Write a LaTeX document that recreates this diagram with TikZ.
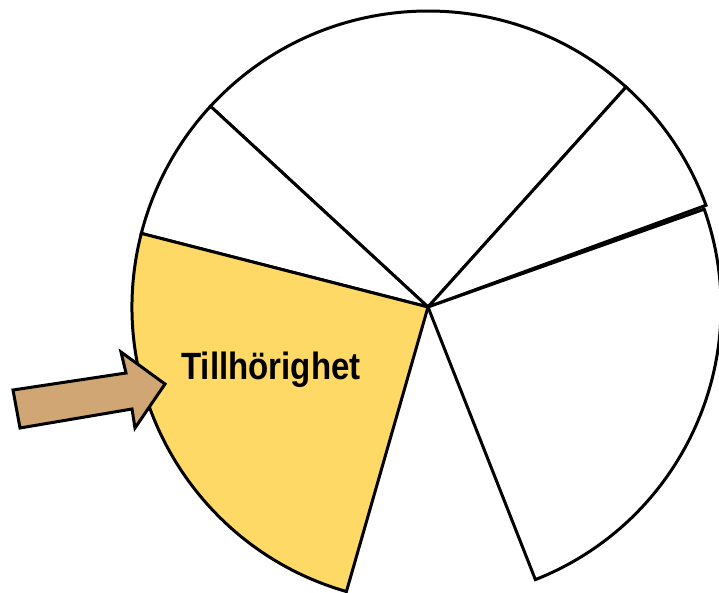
\documentclass[tikz,border=0pt]{standalone}
\usepackage{fontspec}
\setmainfont{Liberation Sans}
\definecolor{secyellow}{HTML}{FFD966}
\definecolor{arrowtan}{HTML}{CFA674}
\begin{document}
\begin{tikzpicture}[x=1pt,y=1pt,
  sector/.style={draw=black,line width=3pt,line join=miter},
  blockarrow/.style={draw=black,fill=arrowtan,line width=3pt,line join=miter}]
\useasboundingbox (0,0) rectangle (719,592);
\clip (0,0) rectangle (719,592);
\coordinate (c) at (428,285);
% top sector
\draw[sector,fill=white] (c) -- ++(48:296) arc[start angle=48,end angle=137.3,radius=296] -- cycle;
% upper left small sector
\draw[sector,fill=white] (c) -- ++(137.3:296) arc[start angle=137.3,end angle=165.6,radius=296] -- cycle;
% upper right small sector
\draw[sector,fill=white] (c) -- ++(20.1:296) arc[start angle=20.1,end angle=48,radius=296] -- cycle;
% right big sector
\draw[sector,fill=white] (c) -- ++(-68.5:293) arc[start angle=-68.5,end angle=19.5,radius=293] -- cycle;
% yellow sector
\draw[sector,fill=secyellow] (c) -- ++(165.6:296) arc[start angle=165.6,end angle=254,radius=296] -- cycle;
% label
\node[anchor=base,inner sep=0pt,font=\fontsize{38}{38}\selectfont\bfseries] (label) at (271,213) {\scalebox{0.87}[1]{Tillhörighet}};
% block arrow
\draw[blockarrow] (13,202) -- (126,219) -- (121,240) -- (165,208) -- (135,164) -- (132,183) -- (20,164) -- cycle;
\end{tikzpicture}
\end{document}
